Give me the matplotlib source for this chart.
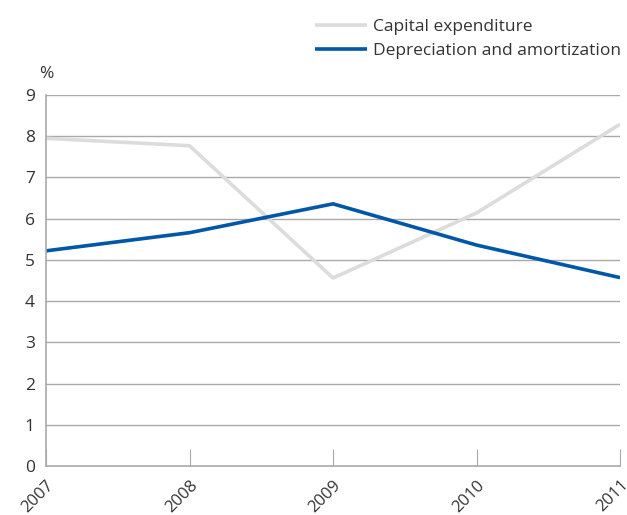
import matplotlib
matplotlib.use('Agg')
import matplotlib.pyplot as plt

years = ['2007', '2008', '2009', '2010', '2011']
capex = [7.95, 7.77, 4.56, 6.14, 8.29]
depreciation = [5.22, 5.66, 6.36, 5.36, 4.57]

plt.rcParams['font.family'] = ['Open Sans', 'DejaVu Sans']
grid_color = '#a9a9a9'

fig = plt.figure(figsize=(6.27, 5.15), dpi=100)
ax = fig.add_axes([0.0734, 0.0951, 0.9155, 0.7204])

x = list(range(len(years)))
ax.plot(x, capex, color='#dcdcdc', lw=2.6, label='Capital expenditure', solid_capstyle='butt')
ax.plot(x, depreciation, color='#0057a8', lw=2.6, label='Depreciation and amortization', solid_capstyle='butt')

ax.set_xlim(0, 4)
ax.set_ylim(0, 9)
ax.set_yticks(range(10))
ax.set_xticks(x)
ax.set_xticklabels(years, rotation=45, ha='right', va='top', rotation_mode='anchor')
ax.tick_params(axis='y', length=0, pad=8, labelsize=12.5, labelcolor='#333333')
ax.tick_params(axis='x', direction='in', length=12, width=0.8, color=grid_color,
               pad=8, labelsize=12, labelcolor='#333333')

for v in range(1, 10):
    ax.axhline(v, color=grid_color, lw=1.0, zorder=0)
for side in ['top', 'right']:
    ax.spines[side].set_visible(False)
for side in ['left', 'bottom']:
    ax.spines[side].set_color(grid_color)
    ax.spines[side].set_linewidth(1.2)

ax.text(0, 1.035, '%', transform=ax.transAxes, fontsize=12.5, color='#333333', ha='center', va='bottom')

fig.legend(loc='upper right', bbox_to_anchor=(1.012, 0.99), frameon=False, fontsize=12.5,
           handlelength=3.0, handletextpad=0.3, labelspacing=0.45, borderaxespad=0.4,
           labelcolor='#333333')

fig.savefig('out.png', dpi=100)
